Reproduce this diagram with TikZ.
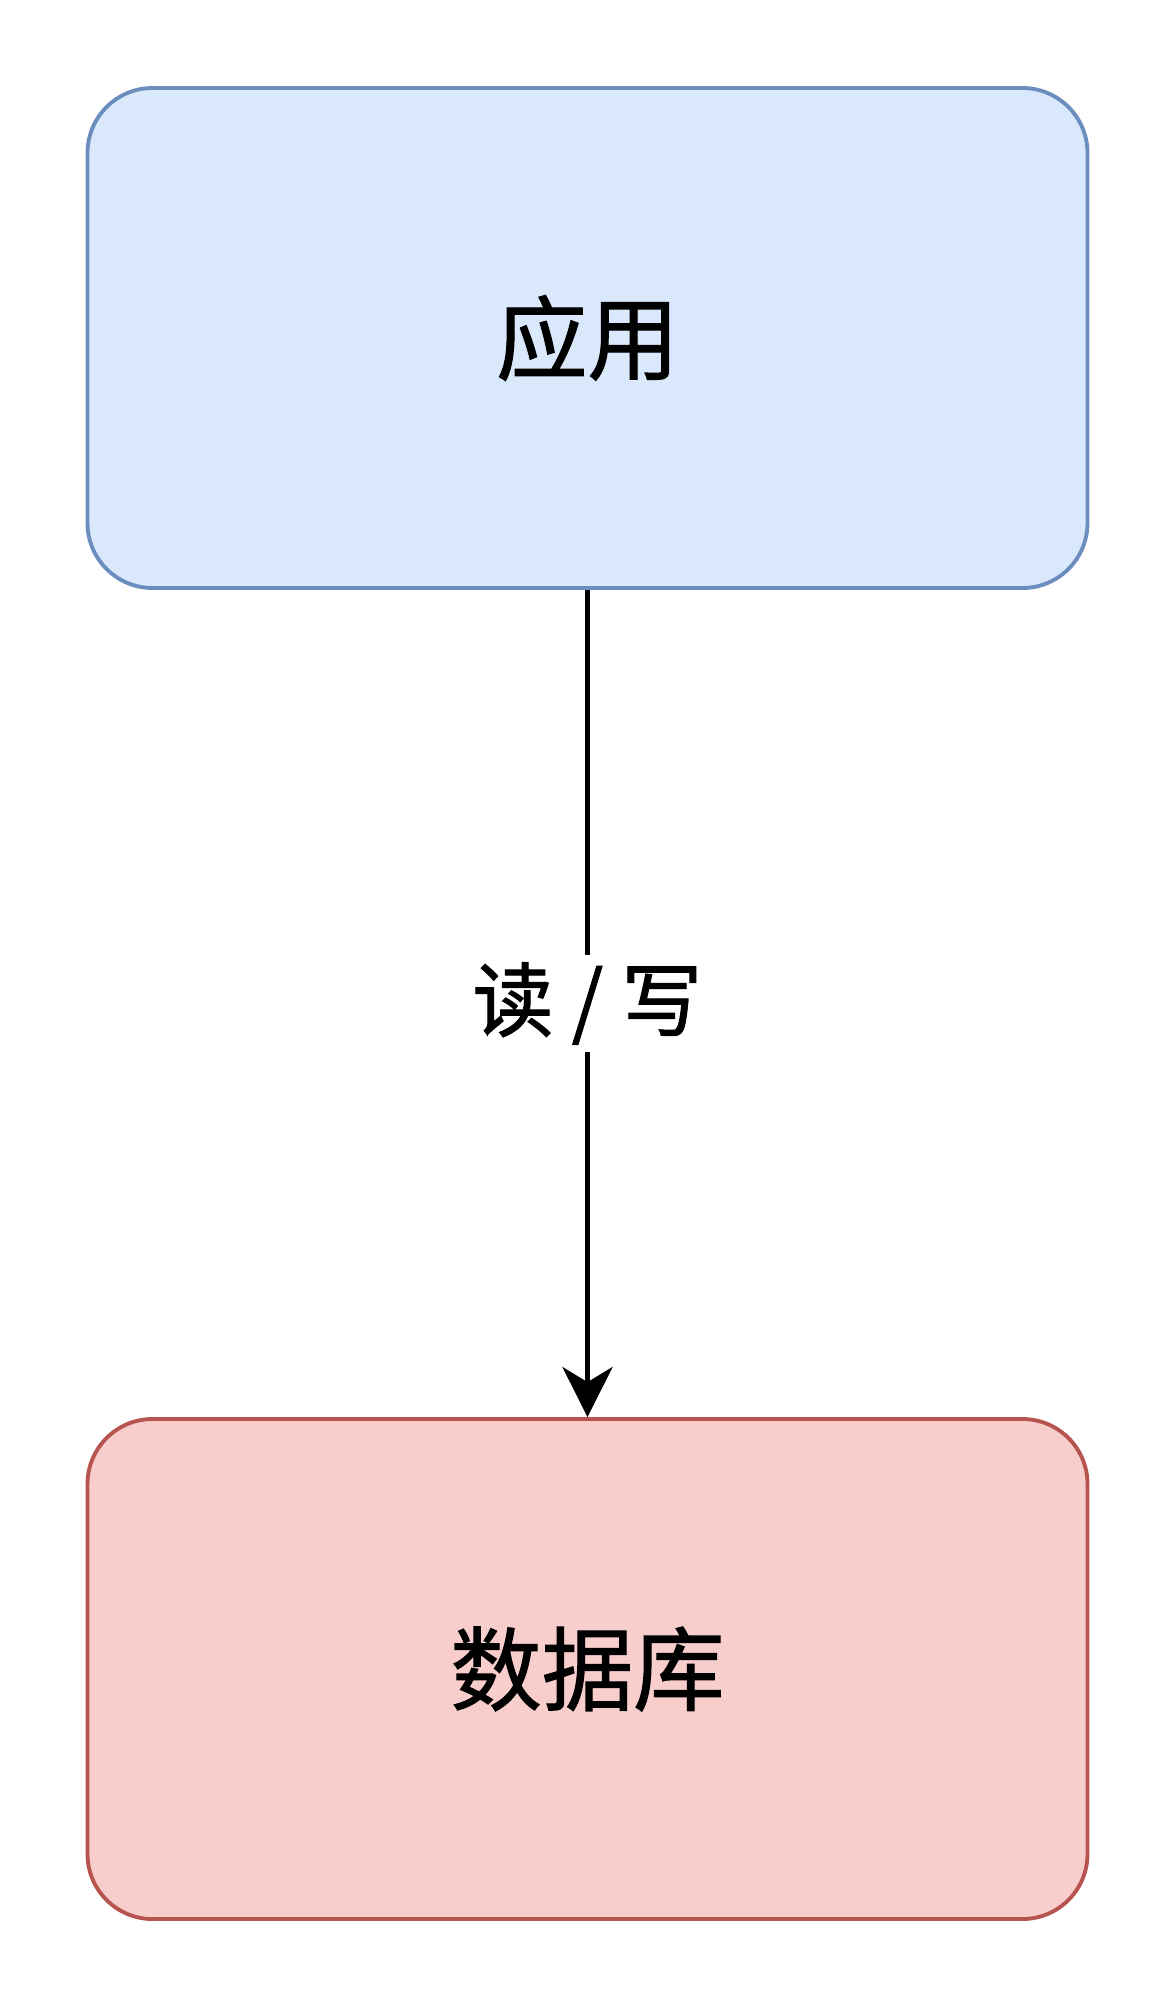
\documentclass[tikz,border=0pt]{standalone}
\usepackage{fontspec}
\newfontfamily\cjk[FakeBold=1.2]{Noto Sans CJK SC}
\usetikzlibrary{arrows.meta}
\definecolor{appfill}{HTML}{DAE8FC}
\definecolor{appline}{HTML}{6C8EBF}
\definecolor{dbfill}{HTML}{F8CECC}
\definecolor{dbline}{HTML}{B85450}
\tikzset{>={Stealth[length=1.0cm,width=1.0cm,inset=0.3cm]}}
\tikzset{box/.style={rounded corners=1.3cm,line width=2.2pt,minimum width=20cm,minimum height=10cm,font=\cjk\fontsize{52}{60}\selectfont}}

\begin{document}
\begin{tikzpicture}
            \useasboundingbox (0,0) rectangle (23.4,-40);
            \node[box,draw=appline,fill=appfill] (App) at (11.75,-6.76) {应用};
            \node[box,draw=dbline,fill=dbfill] (DB) at (11.75,-33.38) {数据库};
            \draw[->,line width=2.8pt] (App) -- (DB)
                node[midway,fill=white,font=\cjk\fontsize{46}{54}\selectfont,inner sep=4pt] (RW) {读 / 写};
        \end{tikzpicture}
\end{document}
